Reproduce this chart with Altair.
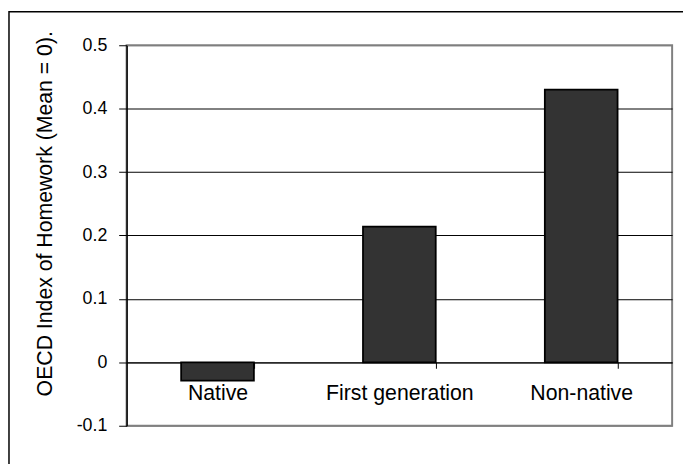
import altair as alt
import pandas as pd

categories = ["Native", "First generation", "Non-native"]
values = [-0.029, 0.214, 0.43]
y_ticks = [-0.1, 0, 0.1, 0.2, 0.3, 0.4, 0.5]

df = pd.DataFrame({"group": categories, "value": values})

W, H = 552, 385
PL, PT, PR, PB = 120, 35, 11, 36
FONT = "Liberation Sans"

bars = alt.Chart(df).mark_bar(
    color="#333333", stroke="black", strokeWidth=1.8
).encode(
    x=alt.X(
        "group:N",
        sort=categories,
        scale=alt.Scale(paddingInner=0.6, paddingOuter=0.3),
        axis=alt.Axis(
            title=None,
            orient="bottom",
            offset=-H / 6,
            tickBand="extent",
            tickSize=6,
            tickColor="black",
            domainColor="black",
            domainWidth=1,
            labelAngle=0,
            labelFontSize=21.5,
            labelFont=FONT,
            labelColor="black",
            labelPadding=15,
            grid=False,
        ),
    ),
    y=alt.Y(
        "value:Q",
        scale=alt.Scale(domain=[-0.1, 0.5], nice=False, zero=False),
        axis=alt.Axis(
            title="OECD Index of Homework (Mean = 0).",
            titleFont=FONT,
            titleFontSize=21.5,
            titleFontWeight="normal",
            titleColor="black",
            titlePadding=20,
            titleY=170,
            titleAlign="center",
            values=y_ticks,
            labelExpr="datum.value + ''",
            labelFont=FONT,
            labelFontSize=18,
            labelColor="black",
            labelPadding=12,
            tickSize=8,
            tickColor="black",
            domainColor="black",
            domainWidth=1.5,
            grid=True,
            gridColor=alt.condition(
                "datum.value == 0.5 || datum.value == -0.1",
                alt.value("#808080"),
                alt.value("black"),
            ),
            gridWidth=1,
        ),
    ),
)

frame = alt.Chart(pd.DataFrame({"f": [0]})).mark_rect(
    fill=None, stroke="black", strokeWidth=1.5
).encode(
    x=alt.value(-PL + 1),
    y=alt.value(-PT + 1),
    x2=alt.value(W + 200),
    y2=alt.value(H + 200),
)

chart = alt.layer(frame, bars).properties(
    width=W,
    height=H,
    background="white",
    autosize=alt.AutoSizeParams(type="none"),
    padding={"left": PL, "top": PT, "right": PR, "bottom": PB},
).configure_view(
    stroke="#808080", strokeWidth=2
)

chart.save("out.html", embed_options={"renderer": "svg", "actions": False})
